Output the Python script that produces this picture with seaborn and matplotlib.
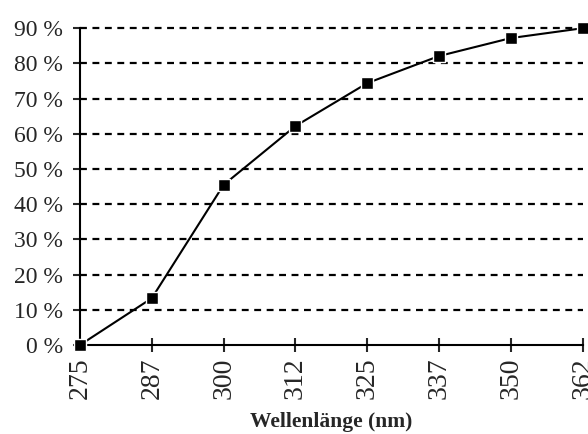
import numpy as np
import pandas as pd
import matplotlib
matplotlib.use("Agg")
import matplotlib.pyplot as plt
import seaborn as sns

# wavelength categories (evenly spaced on the axis) and measured share in %
wavelengths = ["275", "287", "300", "312", "325", "337", "350", "362"]
share_pct = [0.0, 13.3, 45.5, 62.2, 74.4, 82.1, 87.2, 90.0]
y_ticks = [0, 10, 20, 30, 40, 50, 60, 70, 80, 90]

df = pd.DataFrame({"pos": np.arange(len(wavelengths)), "share": share_pct})

sns.set_style("white")
plt.rcParams["font.family"] = ["Liberation Serif", "DejaVu Serif"]

fig = plt.figure(figsize=(5.88, 4.34), dpi=100)
ax = fig.add_axes([0.136, 0.205, 0.855, 0.73])

for t in y_ticks[1:]:
    ax.axhline(t, color="black", lw=1.6, ls=(0, (3.1, 2.5)), zorder=1, clip_on=False)

sns.lineplot(data=df, x="pos", y="share", ax=ax, color="black", lw=1.5,
             marker="s", markersize=8, markeredgecolor="white",
             markeredgewidth=1.0, clip_on=False, zorder=3)

ax.set_xlim(0, len(wavelengths) - 1)
ax.set_ylim(0, 90)
ax.set_xticks(df["pos"])
ax.set_xticklabels(wavelengths, rotation=90, fontsize=20)
ax.set_yticks(y_ticks)
ax.set_yticklabels([f"{t} %" for t in y_ticks], fontsize=17)

ax.tick_params(axis="x", direction="inout", length=10, width=1.5, pad=4,
               bottom=True)
ax.tick_params(axis="y", direction="out", length=5, width=1.5, pad=7, left=True)

for side in ["top", "right"]:
    ax.spines[side].set_visible(False)
for side in ["left", "bottom"]:
    ax.spines[side].set_color("black")
    ax.spines[side].set_linewidth(1.5)

ax.set_xlabel("Wellenlänge (nm)", fontsize=15.5, fontweight="bold", labelpad=9)
ax.set_ylabel("")

fig.savefig("out.png", dpi=100)
